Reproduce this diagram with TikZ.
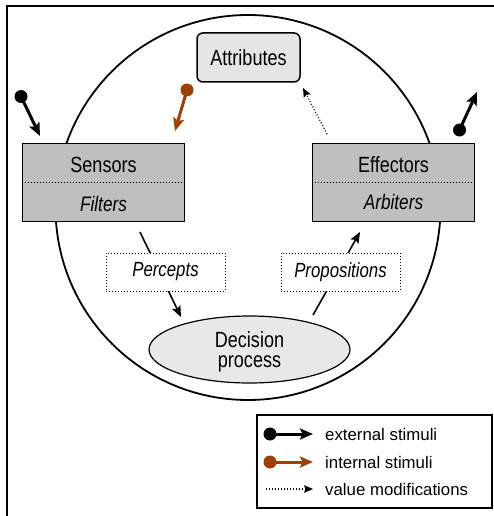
\documentclass[tikz,border=0pt]{standalone}
\usepackage{fontspec}
\setmainfont{Liberation Sans}
\newfontfamily\narrowfont{Liberation Sans}[FakeStretch=0.82]
\usetikzlibrary{arrows.meta,shapes.geometric}
\definecolor{brownstim}{RGB}{160,64,0}
\begin{document}
\begin{tikzpicture}[x=1pt,y=-1pt,
  bigfont/.style={font=\narrowfont\fontsize{22}{20.5}\selectfont},
  labfont/.style={font=\narrowfont\itshape\fontsize{20.5}{22}\selectfont},
  legfont/.style={font=\fontsize{16.8}{18}\selectfont},
  attrbox/.style={draw, line width=1.5pt, rounded corners=6pt, fill=black!10,
    minimum width=103pt, minimum height=49pt, inner sep=0pt, bigfont},
  graybox/.style={draw, line width=1.8pt, fill=black!25,
    minimum width=162pt, minimum height=78pt, inner sep=0pt},
  divider/.style={line width=1pt, dash pattern=on 1pt off 2pt},
  labelbox/.style={draw, line width=1pt, dash pattern=on 1pt off 2pt, fill=white,
    minimum width=119pt, minimum height=38pt, inner sep=0pt, labfont},
  decbox/.style={draw, ellipse, line width=1.2pt, fill=black!9,
    minimum width=201pt, minimum height=67pt, inner sep=0pt},
  conn/.style={line width=1.6pt, -{Stealth[length=11pt,width=9pt,inset=2pt]}},
  stim/.style={line width=3pt, -{Stealth[length=13pt,width=11pt,inset=2.5pt]}},
  valmod/.style={line width=1.2pt, dash pattern=on 1pt off 2pt,
    -{Stealth[length=9pt,width=7.5pt,inset=1.5pt]}},
  ball/.style={circle, inner sep=0pt, minimum size=13pt},
  txt/.style={inner sep=0pt, anchor=base}
]
\useasboundingbox (0,0) rectangle (494,516);

% frame (cut by page edges)
\draw[line width=2.8pt] (7,516) -- (7,6) -- (494,6);

% big circle
\node[draw, circle, line width=1.8pt, minimum size=385pt, inner sep=0pt] (ring) at (248,207.5) {};

% attributes
\node[attrbox] (attr) at (248.5,57.5) {Attributes};

% sensors
\node[graybox] (sens) at (103.5,182.5) {};
\draw[divider] (sens.west) -- (sens.east);
\node[txt, bigfont] (senst) at (103.5,172) {Sensors};
\node[txt, font=\narrowfont\itshape\fontsize{21}{22}\selectfont] (filt) at (103.5,211) {Filters};

% effectors
\node[graybox] (eff) at (393.5,182.5) {};
\draw[divider] (eff.west) -- (eff.east);
\node[txt, bigfont] (efft) at (393.5,172) {Effectors};
\node[txt, font=\narrowfont\itshape\fontsize{21}{22}\selectfont] (arb) at (393.5,209) {Arbiters};

% decision
\node[decbox] (dec) at (249.5,349.5) {};
\node[txt, bigfont] (dect1) at (249.5,347) {Decision};
\node[txt, bigfont] (dect2) at (249.5,367) {process};

% connectors sensors -> decision, decision -> effectors
\coordinate (s1) at (140,232);
\coordinate (d1) at (181,317);
\draw[conn] (s1) -- (d1);
\coordinate (d2) at (313,315);
\coordinate (e1) at (360,232);
\draw[conn] (d2) -- (e1);
\node[labelbox] (perc) at (165.5,272) {Percepts};
\node[labelbox] (prop) at (340.5,272) {Propositions};

% value modification arrow towards attributes
\coordinate (v1) at (327,134);
\coordinate (v2) at (303,88);
\draw[valmod] (v1) -- (v2);

% external stimuli
\node[ball, fill=black] (b1) at (21,96.5) {};
\coordinate (t1) at (40,136);
\draw[stim] (b1.center) -- (t1);
\node[ball, fill=black] (b2) at (459.5,130) {};
\coordinate (t2) at (477,92);
\draw[stim] (b2.center) -- (t2);

% internal stimulus
\node[ball, fill=brownstim] (b3) at (187,90) {};
\coordinate (t3) at (175,131);
\draw[stim, brownstim] (b3.center) -- (t3);

% legend
\node[draw, line width=1.3pt, minimum width=235pt, minimum height=93pt, inner sep=0pt] (leg) at (374.5,461.5) {};
\node[ball, fill=black] (lb1) at (270,434) {};
\coordinate (lt1) at (313,434);
\draw[stim] (lb1.center) -- (lt1);
\node[legfont, anchor=west, inner sep=0pt] (l1) at (325,434) {external stimuli};
\node[ball, fill=brownstim] (lb2) at (270,462) {};
\coordinate (lt2) at (313,462);
\draw[stim, brownstim] (lb2.center) -- (lt2);
\node[legfont, anchor=west, inner sep=0pt] (l2) at (325,462) {internal stimuli};
\coordinate (lv1) at (266,489);
\coordinate (lv2) at (313,489);
\draw[valmod] (lv1) -- (lv2);
\node[legfont, anchor=west, inner sep=0pt] (l3) at (325,489) {value modifications};
\end{tikzpicture}
\end{document}
